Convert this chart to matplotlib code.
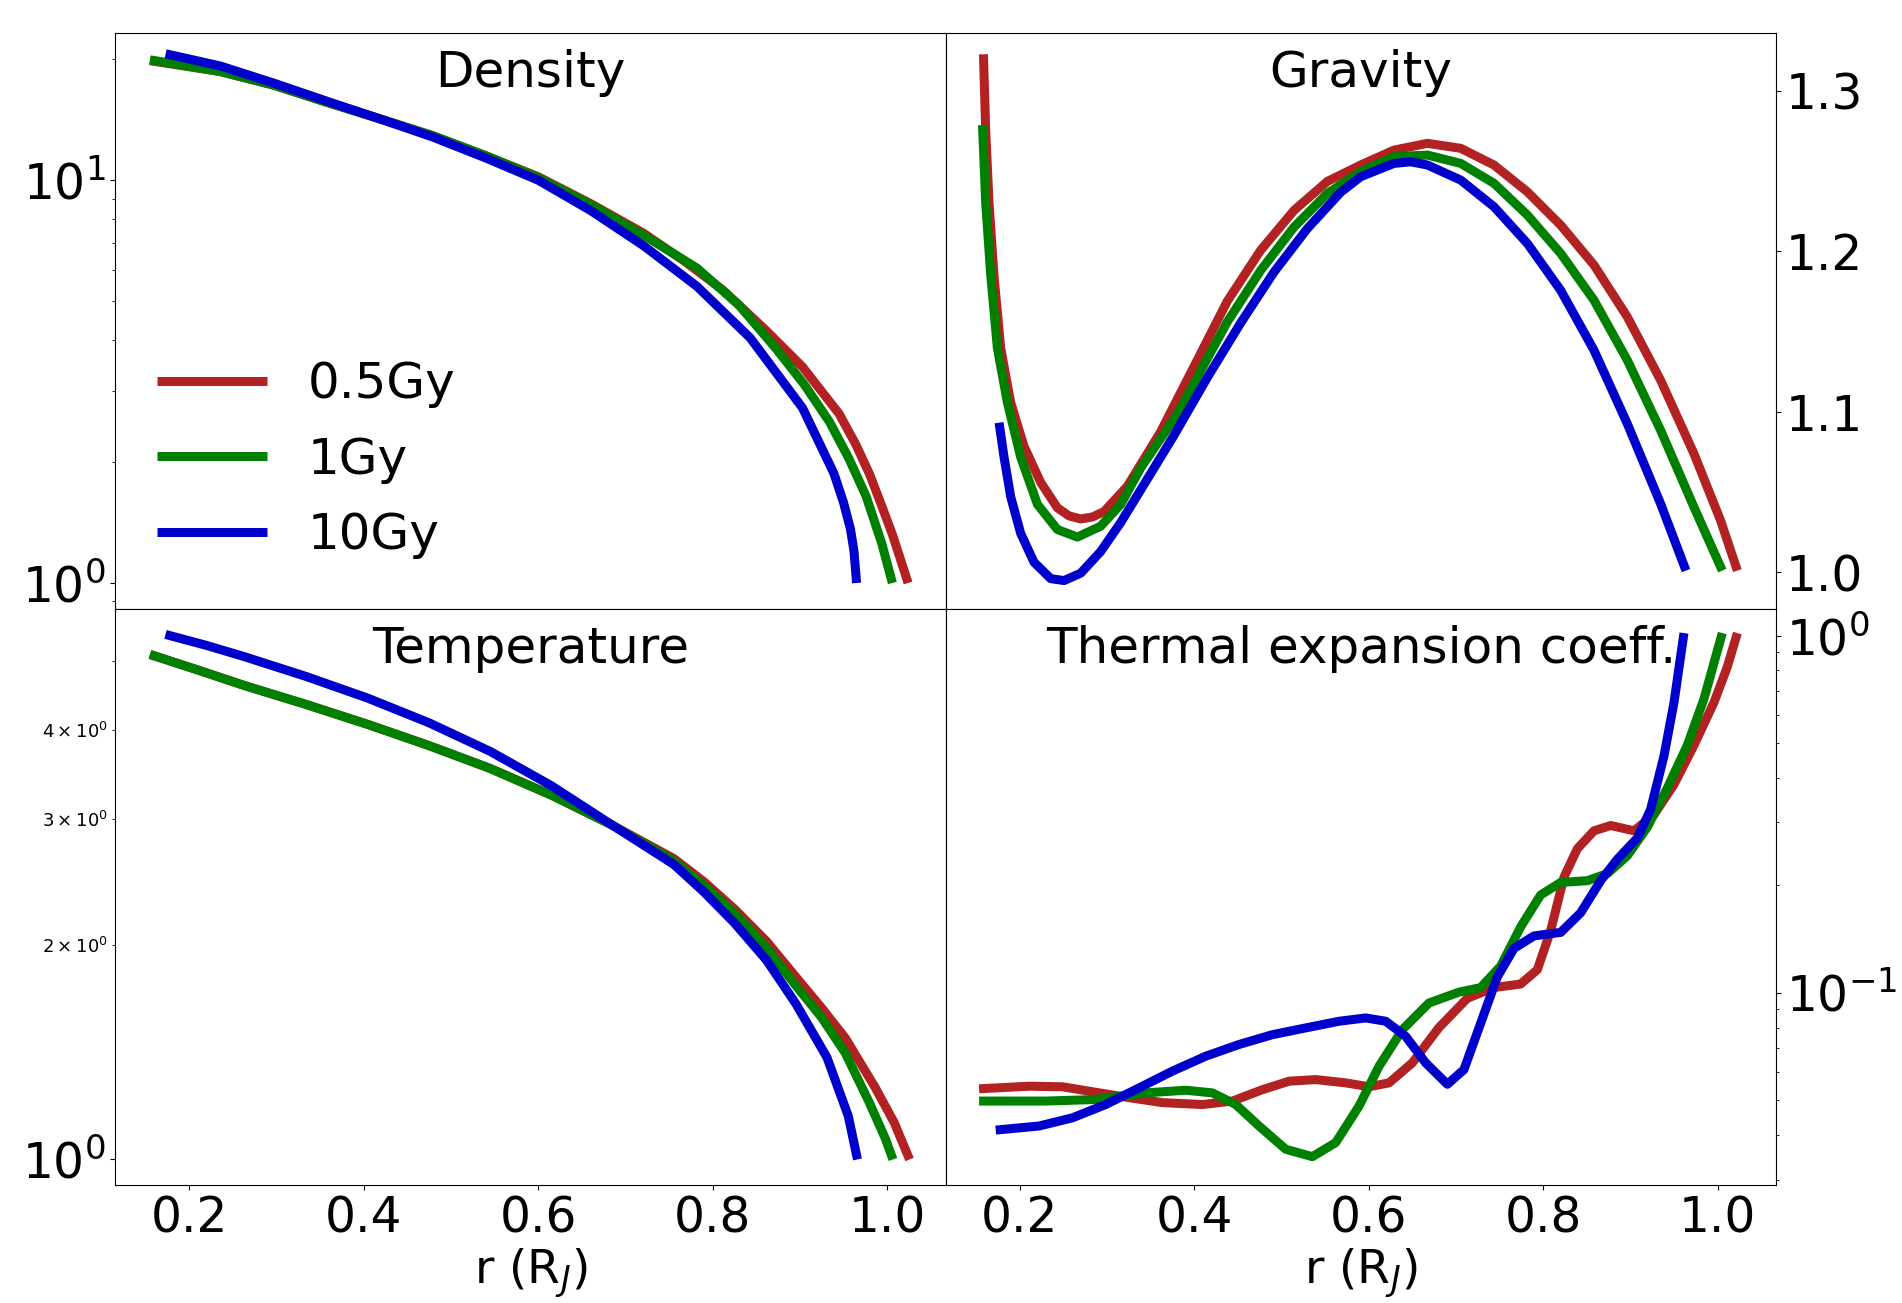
import matplotlib
matplotlib.use('Agg')
import matplotlib.pyplot as plt

labels = ['0.5Gy', '1Gy', '10Gy']
colors = ['firebrick', 'green', 'mediumblue']

# Density
r_rho = [
    [0.155, 0.236, 0.2975, 0.358, 0.4185, 0.479, 0.54, 0.600, 0.66, 0.721, 0.767, 0.812, 0.861, 0.903,
     0.945, 0.964, 0.980, 0.994, 1.006, 1.015, 1.024],
    [0.155, 0.236, 0.2975, 0.358, 0.4185, 0.479, 0.54, 0.600, 0.66, 0.721, 0.782, 0.83, 0.873, 0.905,
     0.934, 0.956, 0.976, 0.994, 1.006],
    [0.173, 0.236, 0.2975, 0.358, 0.4185, 0.479, 0.54, 0.600, 0.66, 0.721, 0.782, 0.843, 0.903, 0.939,
     0.950, 0.958, 0.962, 0.965],
]
rho = [
    [19.8, 18.6, 17.2, 15.6, 14.2, 12.9, 11.5, 10.2, 8.75, 7.38, 6.31, 5.33, 4.24, 3.44,
     2.63, 2.21, 1.86, 1.55, 1.32, 1.15, 1.0],
    [19.9, 18.6, 17.2, 15.6, 14.2, 12.9, 11.5, 10.15, 8.7, 7.3, 6.05, 4.90, 3.81, 3.11,
     2.51, 2.04, 1.64, 1.25, 1.0],
    [20.6, 19.2, 17.4, 15.7, 14.2, 12.8, 11.35, 10.0, 8.41, 6.87, 5.45, 4.06, 2.72, 1.87,
     1.585, 1.36, 1.2, 1.0],
]

# Gravity
r_g = [
    [0.1584, 0.161, 0.1648, 0.1705, 0.1782, 0.1897, 0.2049, 0.2241, 0.2432, 0.2566, 0.2699, 0.2832,
     0.2966, 0.3234, 0.3616, 0.3998, 0.438, 0.4762, 0.5144, 0.5527, 0.5908, 0.629, 0.6673, 0.7055,
     0.7436, 0.7819, 0.8201, 0.8583, 0.8965, 0.9347, 0.9729, 1.0034, 1.0226],
    [0.1573, 0.161, 0.1668, 0.1744, 0.1859, 0.2011, 0.2203, 0.2432, 0.2661, 0.2928, 0.3158, 0.3387,
     0.380, 0.438, 0.4762, 0.5144, 0.5527, 0.5908, 0.629, 0.6673, 0.7055, 0.7436, 0.7819, 0.8201,
     0.8583, 0.8965, 0.9347, 0.9729, 1.0053],
    [0.1763, 0.182, 0.1897, 0.2011, 0.2164, 0.2355, 0.2508, 0.2699, 0.2928, 0.3158, 0.3464, 0.3768,
     0.4151, 0.4533, 0.4915, 0.5297, 0.5679, 0.5908, 0.629, 0.6481, 0.6673, 0.7055, 0.7436, 0.7819,
     0.8201, 0.8583, 0.8965, 0.9347, 0.9637],
]
grav = [
    [1.3227, 1.2752, 1.2300, 1.1847, 1.1395, 1.1055, 1.0784, 1.0558, 1.0400, 1.0350, 1.0331, 1.0343,
     1.0377, 1.0535, 1.0875, 1.1282, 1.1689, 1.2006, 1.2254, 1.2435, 1.2537, 1.2630, 1.2672, 1.2641,
     1.2537, 1.2370, 1.2162, 1.1913, 1.1590, 1.1195, 1.0737, 1.0321, 1.0009],
    [1.2786, 1.2300, 1.1847, 1.1395, 1.1055, 1.0716, 1.0422, 1.0265, 1.0218, 1.0286, 1.0422, 1.0649,
     1.098, 1.156, 1.188, 1.215, 1.236, 1.2495, 1.2589, 1.2599, 1.2547, 1.2423, 1.2225, 1.1986,
     1.1694, 1.1320, 1.0883, 1.0404, 1.0009],
    [1.0931, 1.0716, 1.0468, 1.0241, 1.0061, 0.9959, 0.9947, 0.9993, 1.0128, 1.0309, 1.0581, 1.0852,
     1.1213, 1.1553, 1.1870, 1.2141, 1.2367, 1.2464, 1.2547, 1.2557, 1.2537, 1.2443, 1.2277, 1.2048,
     1.1756, 1.1382, 1.0924, 1.0425, 1.0009],
]

# Temperature
r_T = [
    [0.155, 0.21, 0.264, 0.334, 0.4045, 0.475, 0.545, 0.615, 0.685, 0.7555, 0.79, 0.8256, 0.862,
     0.8957, 0.925, 0.952, 0.9865, 1.008, 1.0257],
    [0.155, 0.21, 0.264, 0.334, 0.4045, 0.475, 0.545, 0.615, 0.685, 0.7555, 0.79, 0.8256, 0.862,
     0.8957, 0.925, 0.952, 0.9795, 0.9976, 1.0067],
    [0.1728, 0.22, 0.264, 0.334, 0.4045, 0.475, 0.545, 0.615, 0.685, 0.7555, 0.79, 0.8256, 0.862,
     0.8957, 0.931, 0.9555, 0.966],
]
temp = [
    [5.10, 4.85, 4.61, 4.34, 4.07, 3.80, 3.53, 3.24, 2.94, 2.64, 2.45, 2.24, 2.02,
     1.80, 1.63, 1.48, 1.26, 1.127, 1.0],
    [5.10, 4.85, 4.61, 4.34, 4.07, 3.80, 3.53, 3.24, 2.94, 2.62, 2.42, 2.21, 1.98,
     1.75, 1.58, 1.41, 1.202, 1.072, 1.0],
    [5.44, 5.25, 5.06, 4.75, 4.43, 4.09, 3.73, 3.34, 2.94, 2.59, 2.37, 2.14, 1.90,
     1.65, 1.39, 1.15, 1.0],
]

# Thermal expansion coeff.
r_a = [
    [0.1534, 0.2107, 0.2489, 0.2871, 0.3253, 0.3636, 0.4094, 0.4438, 0.4782, 0.5087, 0.5393, 0.5736,
     0.6004, 0.6233, 0.650, 0.6806, 0.7131, 0.7436, 0.7742, 0.7933, 0.8086, 0.8239, 0.8392, 0.8583,
     0.8774, 0.9041, 0.927, 0.950, 0.9729, 0.9958, 1.0111, 1.0226],
    [0.1534, 0.2298, 0.2871, 0.3444, 0.3903, 0.4208, 0.4476, 0.4743, 0.5049, 0.5354, 0.5622, 0.5889,
     0.6118, 0.6386, 0.6691, 0.7035, 0.7284, 0.7513, 0.7742, 0.7971, 0.8201, 0.8506, 0.8736, 0.8965,
     0.9194, 0.9423, 0.9652, 0.9843, 1.0053],
    [0.1725, 0.2221, 0.2604, 0.2986, 0.3367, 0.375, 0.4132, 0.4513, 0.4896, 0.5278, 0.566, 0.5966,
     0.6195, 0.6424, 0.6653, 0.6902, 0.7092, 0.7284, 0.7475, 0.7665, 0.7895, 0.8201, 0.843, 0.8659,
     0.885, 0.908, 0.9232, 0.9385, 0.950, 0.9614],
]
alpha = [
    [0.0539, 0.0548, 0.0546, 0.0527, 0.0509, 0.0493, 0.0487, 0.0498, 0.0536, 0.0566, 0.0572, 0.0560,
     0.0546, 0.0560, 0.0637, 0.0800, 0.0966, 0.1035, 0.1059, 0.1161, 0.1495, 0.2110, 0.2534, 0.2843,
     0.2942, 0.2843, 0.3153, 0.3833, 0.4935, 0.6504, 0.818, 1.017],
    [0.0498, 0.0498, 0.0503, 0.0525, 0.0534, 0.0525, 0.0487, 0.0424, 0.0365, 0.0348, 0.0381, 0.0482,
     0.0623, 0.0789, 0.0937, 0.1005, 0.1035, 0.1189, 0.1530, 0.1880, 0.2038, 0.2061, 0.2158, 0.2421,
     0.2911, 0.3745, 0.4935, 0.665, 1.017],
    [0.0413, 0.0424, 0.0447, 0.0487, 0.0542, 0.0604, 0.0665, 0.0717, 0.0764, 0.0798, 0.0833, 0.0851,
     0.0833, 0.0756, 0.0637, 0.0555, 0.0610, 0.0823, 0.1109, 0.1332, 0.1444, 0.1477, 0.1676, 0.2061,
     0.2366, 0.2715, 0.3265, 0.4606, 0.6504, 1.017],
]

fig, axs = plt.subplots(2, 2, figsize=(19.02, 13.03), dpi=100, sharex=True)
fig.subplots_adjust(left=0.0605, right=0.9338, top=0.9747, bottom=0.0906, hspace=0, wspace=0)

panels = [
    (axs[0, 0], r_rho, rho, 'Density', 'log', (0.862, 23.2)),
    (axs[0, 1], r_g, grav, 'Gravity', 'linear', (0.977, 1.336)),
    (axs[1, 0], r_T, temp, 'Temperature', 'log', (0.921, 5.906)),
    (axs[1, 1], r_a, alpha, 'Thermal expansion coeff.', 'log', (0.029, 1.188)),
]

for ax, xs, ys, title, scale, ylim in panels:
    for x, y, c, lab in zip(xs, ys, colors, labels):
        ax.plot(x, y, color=c, lw=6.5, label=lab, solid_joinstyle='round', solid_capstyle='butt')
    ax.set_yscale(scale)
    ax.set_ylim(ylim)
    ax.text(0.5, 0.972, title, transform=ax.transAxes, ha='center', va='top', fontsize=36)
    ax.tick_params(which='major', labelsize=35)
    ax.tick_params(which='minor', labelsize=13)

axs[0, 1].set_yticks([1.0, 1.1, 1.2, 1.3])
for ax in (axs[0, 1], axs[1, 1]):
    ax.yaxis.tick_right()

axs[0, 0].set_xlim(0.115, 1.067)
for ax in axs[1]:
    ax.set_xlabel('r (R$_J$)', fontsize=34, labelpad=3)

axs[0, 0].legend(loc='lower left', bbox_to_anchor=(0.027, 0.052), borderaxespad=0,
                 frameon=False, fontsize=36, handlelength=2.2, labelspacing=0.55)

plt.savefig('out.png', dpi=100)
